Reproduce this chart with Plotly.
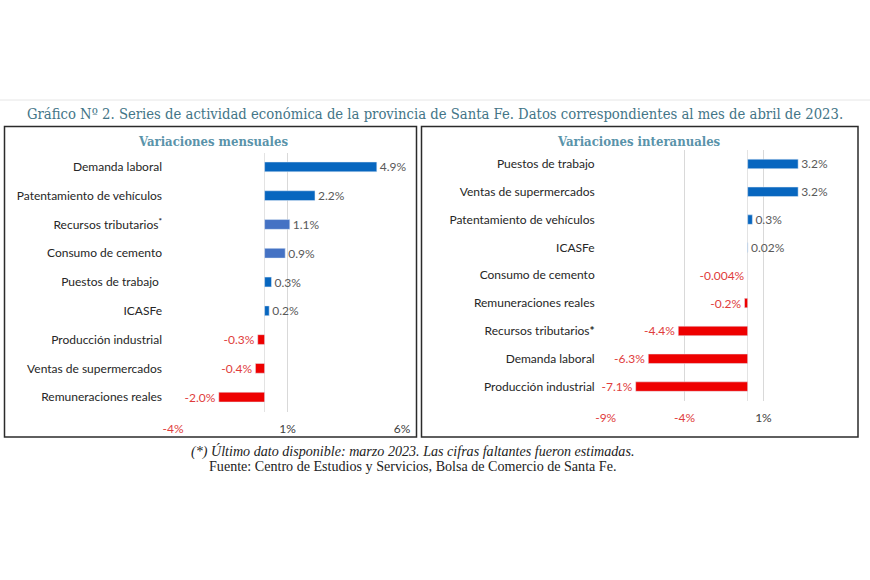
import plotly.graph_objects as go

W, H = 870, 580

# ---- data ----
left_cats = ["Demanda laboral", "Patentamiento de vehículos", "Recursos tributarios<sup><b>*</b></sup>",
             "Consumo de cemento", "Puestos de trabajo ", "ICASFe", "Producción industrial",
             "Ventas de supermercados", "Remuneraciones reales"]
left_vals = [4.9, 2.2, 1.1, 0.9, 0.3, 0.2, -0.3, -0.4, -2.0]
left_labels = ["4.9%", "2.2%", "1.1%", "0.9%", "0.3%", "0.2%", "-0.3%", "-0.4%", "-2.0%"]
left_colors = ["#0766BF", "#0766BF", "#4472C4", "#4472C4", "#0766BF", "#0766BF",
               "#EE0000", "#EE0000", "#EE0000"]

right_cats = ["Puestos de trabajo", "Ventas de supermercados", "Patentamiento de vehículos",
              "ICASFe", "Consumo de cemento", "Remuneraciones reales", "Recursos tributarios<b>*</b>",
              "Demanda laboral", "Producción industrial"]
right_vals = [3.2, 3.2, 0.3, 0.02, -0.004, -0.2, -4.4, -6.3, -7.1]
right_labels = ["3.2%", "3.2%", "0.3%", "0.02%", "-0.004%", "-0.2%", "-4.4%", "-6.3%", "-7.1%"]
right_colors = ["#0766BF", "#0766BF", "#0766BF", "#0766BF", "#EE0000", "#EE0000",
                "#EE0000", "#EE0000", "#EE0000"]

left_ticks = [-4, 1, 6]
left_ticktext = ["-4%", "1%", "6%"]
right_ticks = [-9, -4, 1]
right_ticktext = ["-9%", "-4%", "1%"]

RED_TXT = "#E03C3C"
GRAY_TXT = "#595959"


def tick_html(vals, texts):
    return [f'<span style="color:{RED_TXT}">{t}</span>' if v < 0 else t for v, t in zip(vals, texts)]


def txt_colors(vals):
    return [RED_TXT if v < 0 else GRAY_TXT for v in vals]


px = lambda x: x / W
py = lambda y: (H - y) / H

fig = go.Figure()
fig.add_trace(go.Bar(
    x=left_vals, y=left_cats, orientation="h", marker_color=left_colors,
    text=left_labels, textposition="outside", cliponaxis=False, constraintext="none",
    textfont=dict(family="Lato", size=12, color=txt_colors(left_vals)),
    xaxis="x", yaxis="y", width=0.34, hoverinfo="skip"))
fig.add_trace(go.Bar(
    x=right_vals, y=right_cats, orientation="h", marker_color=right_colors,
    text=right_labels, textposition="outside", cliponaxis=False, constraintext="none",
    textfont=dict(family="Lato", size=12, color=txt_colors(right_vals)),
    xaxis="x2", yaxis="y2", width=0.34, hoverinfo="skip"))

axis_common = dict(showline=False, ticks="", gridcolor="#D9D9D9", gridwidth=1,
                   zeroline=True, zerolinecolor="#E3E3E3", zerolinewidth=1, automargin=False,
                   tickfont=dict(family="Lato", size=12, color="#404040"))

fig.update_layout(
    width=W, height=H, margin=dict(l=0, r=0, t=0, b=0, autoexpand=False),
    paper_bgcolor="white", plot_bgcolor="white", showlegend=False,
    xaxis=dict(domain=[px(173), px(402)], range=[-4, 6], anchor="y",
               tickvals=left_ticks, ticktext=tick_html(left_ticks, left_ticktext),
               ticklabelstandoff=8, **axis_common),
    yaxis=dict(domain=[py(411.5), py(152.5)], anchor="x", autorange="reversed",
               showgrid=False, showline=False, ticks="", ticklabelstandoff=10, automargin=False,
               tickfont=dict(family="Lato", size=12, color="#262626")),
    xaxis2=dict(domain=[px(605.7), px(842.3)], range=[-9, 6], anchor="y2",
                tickvals=right_ticks, ticktext=tick_html(right_ticks, right_ticktext),
                ticklabelstandoff=8, **axis_common),
    yaxis2=dict(domain=[py(400.5), py(150)], anchor="x2", autorange="reversed",
                showgrid=False, showline=False, ticks="", ticklabelstandoff=10, automargin=False,
                tickfont=dict(family="Lato", size=12, color="#262626")),
)

# panel borders and top rule
fig.add_shape(type="line", xref="paper", yref="paper", x0=0, x1=1, y0=py(100), y1=py(100),
              line=dict(color="#E6E6E6", width=1))
fig.add_shape(type="rect", xref="paper", yref="paper", x0=px(4.5), x1=px(416.5),
              y0=py(437), y1=py(126.5), line=dict(color="#2B2B2B", width=1.5))
fig.add_shape(type="rect", xref="paper", yref="paper", x0=px(421.5), x1=px(858),
              y0=py(437), y1=py(126.5), line=dict(color="#2B2B2B", width=1.5))

title_color = "#437587"
panel_color = "#5A93AA"
fig.add_annotation(text="Gráfico Nº 2. Series de actividad económica de la provincia de Santa Fe. "
                        "Datos correspondientes al mes de abril de 2023.",
                   xref="paper", yref="paper", x=px(435), y=py(113), showarrow=False,
                   font=dict(family="DejaVu Serif Condensed", size=14.7, color=title_color),
                   xanchor="center", yanchor="middle")
fig.add_annotation(text="<b>Variaciones mensuales</b>", xref="paper", yref="paper",
                   x=px(213), y=py(141), showarrow=False, xanchor="center", yanchor="middle",
                   font=dict(family="DejaVu Serif Condensed", size=13, color=panel_color))
fig.add_annotation(text="<b>Variaciones interanuales</b>", xref="paper", yref="paper",
                   x=px(639), y=py(141), showarrow=False, xanchor="center", yanchor="middle",
                   font=dict(family="DejaVu Serif Condensed", size=13, color=panel_color))
fig.add_annotation(text="<i>(*) Último dato disponible: marzo 2023. Las cifras faltantes fueron estimadas.</i>",
                   xref="paper", yref="paper", x=px(412.5), y=py(451), showarrow=False,
                   xanchor="center", yanchor="middle",
                   font=dict(family="Liberation Serif", size=14.1, color="#222222"))
fig.add_annotation(text="Fuente: Centro de Estudios y Servicios, Bolsa de Comercio de Santa Fe.",
                   xref="paper", yref="paper", x=px(412.5), y=py(466), showarrow=False,
                   xanchor="center", yanchor="middle",
                   font=dict(family="Liberation Serif", size=14.1, color="#222222"))

fig.write_html("out.html")
